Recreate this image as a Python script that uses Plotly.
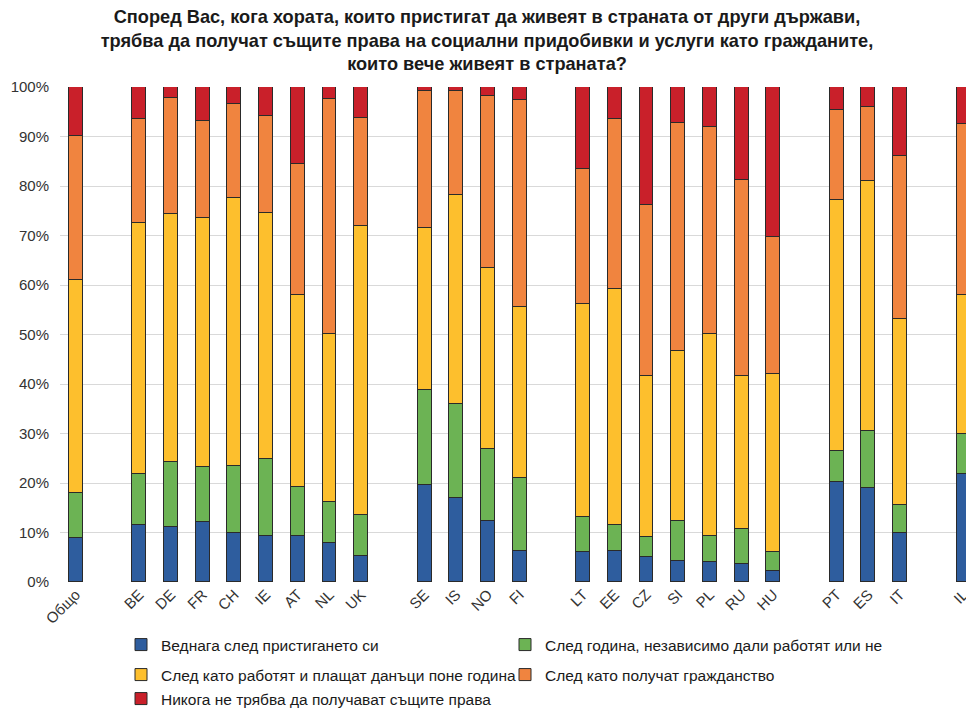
import plotly.graph_objects as go

groups = [
    ["Общо"],
    ["BE", "DE", "FR", "CH", "IE", "AT", "NL", "UK"],
    ["SE", "IS", "NO", "FI"],
    ["LT", "EE", "CZ", "SI", "PL", "RU", "HU"],
    ["PT", "ES", "IT"],
    ["IL"],
]

# cumulative tops (%), converted to segment sizes below
blue_top   = [8.9, 11.6, 11.1, 12.1, 9.9, 9.2, 9.2, 7.9, 5.3, 19.5, 17.0, 12.4, 6.2,
              6.0, 6.2, 5.1, 4.2, 4.1, 3.6, 2.2, 20.2, 18.9, 9.9, 21.8]
green_top  = [18.0, 21.8, 24.2, 23.2, 23.4, 24.8, 19.2, 16.2, 13.5, 38.7, 36.0, 26.9, 21.1,
              13.1, 11.6, 9.1, 12.4, 9.2, 10.8, 6.0, 26.4, 30.6, 15.6, 29.8]
yellow_top = [61.1, 72.5, 74.4, 73.5, 77.6, 74.5, 58.0, 50.1, 72.0, 71.6, 78.2, 63.4, 55.6,
              56.2, 59.1, 41.7, 46.7, 50.2, 41.7, 42.1, 77.2, 81.1, 53.1, 58.0]
orange_top = [90.2, 93.5, 97.7, 93.1, 96.5, 94.2, 84.5, 97.6, 93.7, 99.1, 99.1, 98.1, 97.4,
              83.4, 93.5, 76.1, 92.7, 92.0, 81.3, 69.6, 95.3, 95.9, 86.1, 92.5]

series_names = [
    "Веднага след пристигането си",
    "След година, независимо дали работят или не",
    "След като работят и плащат данъци поне година",
    "След като получат гражданство",
    "Никога не трябва да получават същите права",
]
colors = ["#2E5D9E", "#6CB354", "#FDBF2D", "#F0843F", "#C9202A"]
legend_rows = ["legend", "legend", "legend2", "legend2", "legend3"]

title_lines = [
    "Според Вас, кога хората, които пристигат да живеят в страната от други държави,",
    "трябва да получат същите права на социални придобивки и услуги като гражданите,",
    "които вече живеят в страната?",
]

y_ticks = list(range(0, 101, 10))
y_ticktext = [f"{v}%" for v in y_ticks]

# positions: one empty slot between groups
labels, xpos = [], []
pos = 0
for g in groups:
    for c in g:
        labels.append(c)
        xpos.append(pos)
        pos += 1
    pos += 1

tops = [blue_top, green_top, yellow_top, orange_top, [100.0] * len(labels)]
segments = []
prev = [0.0] * len(labels)
for t in tops:
    segments.append([round(a - b, 2) for a, b in zip(t, prev)])
    prev = t

fig = go.Figure()
for name, col, vals, lg in zip(series_names, colors, segments, legend_rows):
    fig.add_trace(go.Bar(
        x=xpos, y=vals, name=name, width=0.44, legend=lg,
        marker=dict(color=col, line=dict(color="#2a2a2a", width=1)),
    ))

# the page body adds an 8px offset, so the figure is 8px smaller each way
W, H = 966, 702
legend_font = dict(family="Liberation Sans, Arial", size=15.5, color="#1a1a1a")


def legend_at(ypix):
    return dict(
        orientation="h", xref="container", x=113 / W, xanchor="left",
        yref="container", y=1 - ypix / H, yanchor="middle",
        entrywidth=339, entrywidthmode="pixels",
        font=legend_font, traceorder="normal", itemwidth=30,
        bgcolor="rgba(0,0,0,0)",
    )


fig.update_layout(
    barmode="stack",
    width=W, height=H,
    paper_bgcolor="white", plot_bgcolor="white",
    margin=dict(l=52, r=0, t=79, b=128, autoexpand=False),
    title=dict(
        text="<br>".join(title_lines),
        x=(487 - 8) / W, xanchor="center", xref="container",
        yref="container", y=1 - 15 / H, yanchor="top",
        font=dict(family="Liberation Sans, Arial", size=18.2, color="#1a1a1a", weight="bold"),
    ),
    font=dict(family="Liberation Sans, Arial", color="#333333"),
    xaxis=dict(
        range=[-0.5, 28.33], automargin=False,
        tickmode="array", tickvals=xpos, ticktext=labels,
        tickangle=-45, tickfont=dict(size=15, color="#333333"),
        showgrid=False, zeroline=False, showline=False, ticks="",
    ),
    yaxis=dict(
        range=[0, 100], automargin=False,
        tickmode="array", tickvals=y_ticks, ticktext=y_ticktext,
        tickfont=dict(size=15, color="#333333"),
        showgrid=True, gridcolor="#D9D9D9", gridwidth=1,
        zeroline=False, showline=False, ticks="", ticklabelstandoff=10,
    ),
    legend=legend_at(637),
    legend2=legend_at(667),
    legend3=legend_at(691),
    bargap=0,
)

fig.write_html("out.html")
